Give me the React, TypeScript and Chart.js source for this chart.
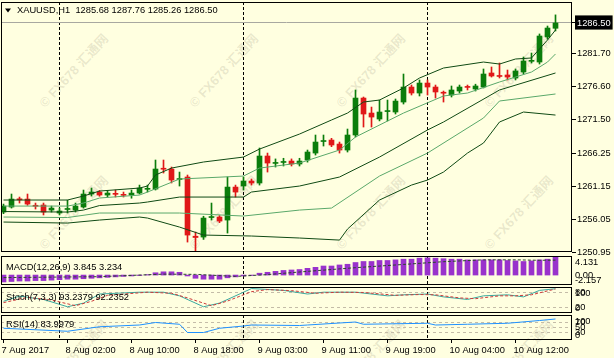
import React, { useEffect, useRef } from 'react';
import { Chart, registerables } from 'chart.js';

Chart.register(...registerables);

// ---------------- data ----------------
const SYMBOL = 'XAUUSD,H1';

const OPEN = [
  1257.15, 1257.93, 1259.17, 1259.17, 1258.15, 1258.24, 1257.46, 1257.0, 1257.55, 1257.46,
  1257.93, 1259.95, 1260.26, 1259.79, 1260.0, 1259.85, 1259.79, 1260.1, 1260.68, 1260.72,
  1263.9, 1263.83, 1262.2, 1262.59, 1253.4, 1253.27, 1256.3, 1256.38, 1255.91, 1261.03,
  1261.19, 1261.97, 1261.66, 1265.85, 1264.7, 1264.85, 1265.07, 1264.61, 1265.23, 1266.31,
  1268.1, 1268.33, 1267.71, 1266.78, 1269.11, 1274.85, 1272.52, 1271.59, 1272.75, 1272.68,
  1274.23, 1276.56, 1275.63, 1277.18, 1276.56, 1275.7, 1275.32, 1275.94, 1276.6, 1276.25,
  1276.56, 1278.74, 1278.3, 1278.43, 1277.96, 1278.89, 1280.55, 1280.44, 1284.33, 1285.68,
];
const HIGH = [
  1258.39, 1259.95, 1259.48, 1259.95, 1258.55, 1258.55, 1258.08, 1257.77, 1259.0, 1258.55,
  1260.57, 1260.88, 1260.5, 1260.5, 1260.57, 1260.26, 1260.57, 1261.34, 1261.34, 1265.23,
  1265.23, 1264.14, 1263.36, 1262.9, 1254.05, 1256.5, 1258.55, 1256.6, 1262.59, 1261.34,
  1262.59, 1262.28, 1267.09, 1266.31, 1265.4, 1265.5, 1265.4, 1265.5, 1266.78, 1269.11,
  1269.11, 1268.6, 1268.02, 1270.04, 1276.1, 1275.01, 1273.45, 1274.54, 1274.54, 1274.7,
  1278.58, 1276.87, 1277.65, 1277.65, 1276.87, 1275.94, 1276.72, 1276.87, 1276.87, 1277.0,
  1279.36, 1279.67, 1280.29, 1279.2, 1279.36, 1281.22, 1281.84, 1284.8, 1286.03, 1287.76,
];
const LOW = [
  1256.9, 1257.77, 1258.55, 1258.2, 1257.62, 1256.7, 1257.15, 1256.7, 1257.0, 1257.15,
  1257.77, 1259.64, 1259.6, 1259.5, 1259.48, 1259.48, 1259.3, 1259.95, 1260.26, 1260.57,
  1263.21, 1261.66, 1261.19, 1252.49, 1251.1, 1252.9, 1255.91, 1255.5, 1253.89, 1259.48,
  1260.57, 1261.34, 1261.34, 1263.36, 1264.14, 1264.3, 1264.3, 1264.3, 1264.9, 1266.0,
  1267.4, 1267.3, 1266.31, 1266.47, 1268.8, 1270.35, 1270.35, 1271.3, 1271.3, 1272.37,
  1273.92, 1275.32, 1275.17, 1275.32, 1274.85, 1274.23, 1275.01, 1275.63, 1276.1, 1275.94,
  1276.41, 1278.11, 1277.96, 1277.65, 1277.65, 1278.58, 1280.29, 1280.13, 1284.0, 1285.26,
];
const CLOSE = [
  1258.08, 1259.17, 1259.05, 1258.39, 1258.05, 1257.15, 1257.77, 1257.31, 1257.65, 1258.08,
  1259.95, 1260.26, 1259.79, 1260.1, 1259.9, 1259.75, 1260.1, 1260.88, 1260.78, 1263.83,
  1263.8, 1262.12, 1262.35, 1253.58, 1253.2, 1256.22, 1256.45, 1255.75, 1261.03, 1260.26,
  1261.97, 1261.66, 1265.85, 1264.76, 1264.85, 1265.0, 1264.61, 1265.07, 1266.47, 1268.02,
  1268.2, 1267.56, 1266.78, 1269.11, 1274.85, 1272.37, 1271.9, 1272.68, 1272.9, 1274.38,
  1276.56, 1275.63, 1277.18, 1276.56, 1275.79, 1275.6, 1276.1, 1276.56, 1276.5, 1276.72,
  1278.58, 1278.27, 1278.2, 1278.11, 1279.05, 1280.6, 1280.65, 1284.48, 1285.72, 1286.5,
];

// Bollinger bands [bar index, price]
const BB_UPPER_OUTER: [number, number][] = [
  [0, 1259.02], [8, 1259.02], [10, 1259.64], [12, 1260.41], [17, 1260.88], [18, 1261.19],
  [19, 1262.9], [21, 1263.98], [25, 1264.92], [30, 1265.69], [32, 1266.93], [37, 1269.26],
  [41, 1271.44], [43, 1272.52], [45, 1274.23], [47, 1274.54], [50, 1276.41], [52, 1277.96],
  [55, 1279.51], [60, 1280.44], [62, 1280.13], [64, 1280.91], [66, 1281.07], [68, 1283.86],
  [69, 1285.41],
];
const BB_UPPER_INNER: [number, number][] = [
  [0, 1258.08], [8, 1258.08], [10, 1258.55], [12, 1259.33], [17, 1259.79], [18, 1260.26],
  [22, 1262.28], [30, 1262.74], [32, 1263.98], [37, 1264.76], [42, 1266.78], [44, 1268.8],
  [50, 1272.52], [55, 1275.17], [58, 1275.63], [62, 1277.34], [64, 1278.11], [66, 1278.89],
  [68, 1280.44], [69, 1281.69],
];
const BB_MIDDLE: [number, number][] = [
  [0, 1257.23], [8, 1257.15], [10, 1257.46], [12, 1258.16], [17, 1258.55], [18, 1258.71],
  [22, 1259.48], [30, 1259.48], [31, 1260.26], [37, 1261.19], [42, 1262.59], [47, 1265.69],
  [53, 1269.89], [55, 1271.13], [62, 1276.1], [69, 1278.74],
];
const BB_LOWER_INNER: [number, number][] = [
  [0, 1256.38], [8, 1256.3], [12, 1257.0], [18, 1257.0], [22, 1257.0], [30, 1256.53],
  [37, 1257.46], [41, 1257.77], [47, 1262.74], [53, 1266.31], [60, 1271.75], [62, 1274.39],
  [69, 1275.48],
];
const BB_LOWER_OUTER: [number, number][] = [
  [0, 1255.6], [8, 1255.44], [12, 1255.91], [17, 1256.38], [18, 1256.22], [22, 1254.82],
  [25, 1253.58], [31, 1253.43], [37, 1253.12], [42, 1252.8], [43, 1254.51], [47, 1259.02],
  [51, 1261.34], [53, 1262.12], [55, 1263.36], [58, 1266.31], [60, 1267.87], [62, 1271.13],
  [65, 1272.68], [69, 1272.21],
];

const MACD_HIST = [
  -1.5, -1.4, -1.3, -1.3, -1.2, -1.2, -1.1, -1.0, -0.9, -0.9,
  -0.8, -0.7, -0.6, -0.5, -0.4, -0.3, -0.2, -0.1, 0.1, 0.5,
  0.7, 0.7, 0.6, -0.2, -0.7, -0.9, -0.9, -0.9, -0.6, -0.4,
  -0.2, -0.1, 0.4, 0.6, 0.8, 1.0, 1.1, 1.2, 1.46, 1.68,
  1.96, 1.96, 2.19, 2.34, 2.72, 2.94, 2.94, 3.16, 3.16, 3.29,
  3.44, 3.44, 3.66, 3.73, 3.66, 3.55, 3.44, 3.44, 3.29, 3.29,
  3.29, 3.29, 3.29, 3.16, 3.07, 2.94, 3.07, 3.29, 3.44, 3.845,
];
const MACD_SIGNAL: [number, number][] = [
  [0, -0.55], [12, -0.35], [20, 0.2], [24, 0.15], [29, -0.3], [33, 0.1], [38, 0.8],
  [44, 1.6], [50, 2.3], [55, 2.9], [60, 3.3], [64, 3.3], [67, 3.2], [69, 3.234],
];
const STOCH_MAIN: [number, number][] = [
  [0, 45], [2, 65], [5, 52], [8, 24], [10, 38], [12, 73], [17, 80], [20, 80], [22, 66],
  [25, 24], [27, 38], [30, 80], [31, 94], [35, 87], [38, 73], [40, 80], [44, 80], [48, 66],
  [50, 70], [53, 73], [55, 62], [58, 52], [60, 66], [63, 70], [65, 62], [67, 87], [69, 93.2379],
];
const STOCH_SIGNAL: [number, number][] = [
  [0, 40], [3, 60], [6, 50], [9, 28], [11, 45], [13, 68], [18, 80], [21, 76], [23, 58],
  [26, 28], [28, 46], [31, 82], [33, 90], [36, 86], [39, 76], [42, 80], [45, 79], [49, 68],
  [52, 71], [54, 70], [57, 58], [59, 55], [62, 66], [64, 66], [66, 70], [68, 85], [69, 92.2352],
];
const RSI_LINE: [number, number][] = [
  [0, 47], [8, 35], [12, 53], [17, 60], [19, 70], [22, 63], [23, 30], [25, 30], [27, 47],
  [30, 56], [31, 60], [37, 58], [38, 60], [44, 72], [45, 63], [53, 67], [54, 60], [58, 63],
  [63, 67], [67, 78], [69, 83.9979],
];

const DAY_SEPARATORS = [7, 30, 53];
const TIME_TICKS = [0, 8, 16, 24, 32, 40, 48, 56, 64];
const TIME_LABELS = [
  '7 Aug 2017', '8 Aug 02:00', '8 Aug 10:00', '8 Aug 18:00', '9 Aug 03:00',
  '9 Aug 11:00', '9 Aug 19:00', '10 Aug 04:00', '10 Aug 12:00',
];
const PRICE_TICKS = [1286.5, 1281.7, 1276.6, 1271.5, 1266.25, 1261.15, 1256.05, 1250.95];
const MACD_AXIS_VALUES = [4.131, 0, -2.157];
const MACD_AXIS_LABELS = ['4.131', '0.00', '-2.157'];
const STOCH_AXIS_VALUES = [100, 80, 20, 0];
const STOCH_AXIS_LABELS = ['100', '80', '20', '0'];
const STOCH_LEVELS = [80, 20];
const RSI_AXIS_VALUES = [100, 70, 50, 30, 0];
const RSI_AXIS_LABELS = ['100', '70', '50', '30', '0'];
const RSI_LEVELS = [70, 50, 30];
const WATERMARK = '© FX678 汇通网';

// ---------------- styling ----------------
const BG = '#FFFFE0';
const UP = '#0b7d0b';
const DOWN = '#e01818';
const BB_DARK = '#0f4a14';
const BB_LIGHT = '#5aa86a';
const FONT_FAMILY = '"Liberation Sans", Arial, sans-serif';
const FONT_SIZE = 9.3;
const FONT = `${FONT_SIZE}px ${FONT_FAMILY}`;
const X_MIN = -0.3125;
const X_MAX = 71.0625;

const pts = (arr: [number, number][]) => arr.map(([x, y]) => ({ x, y }));

function drawFrame(chart: any) {
  const { ctx, chartArea: a } = chart;
  ctx.save();
  ctx.setLineDash([]);
  ctx.strokeStyle = '#000';
  ctx.lineWidth = 1;
  ctx.strokeRect(a.left + 0.5, a.top + 0.5, a.right - a.left - 1, a.bottom - a.top - 1);
  ctx.restore();
}

function drawSeparators(chart: any) {
  const { ctx, chartArea: a, scales } = chart;
  ctx.save();
  ctx.strokeStyle = '#000';
  ctx.lineWidth = 1;
  ctx.setLineDash([3, 2]);
  for (const s of DAY_SEPARATORS) {
    const px = Math.round(scales.x.getPixelForValue(s) - 0.5) + 0.5;
    ctx.beginPath();
    ctx.moveTo(px, a.top);
    ctx.lineTo(px, a.bottom);
    ctx.stroke();
  }
  ctx.restore();
}

function drawLevels(chart: any, levels: number[]) {
  const { ctx, chartArea: a, scales } = chart;
  ctx.save();
  ctx.strokeStyle = '#c4bca8';
  ctx.lineWidth = 1;
  ctx.setLineDash([3, 3]);
  for (const v of levels) {
    const py = Math.round(scales.y.getPixelForValue(v) - 0.5) + 0.5;
    ctx.beginPath();
    ctx.moveTo(a.left, py);
    ctx.lineTo(a.right, py);
    ctx.stroke();
  }
  ctx.restore();
}

function drawSideLabels(chart: any, values: number[], labels: string[]) {
  const { ctx, chartArea: a, scales } = chart;
  const y = scales.y;
  ctx.save();
  ctx.font = FONT;
  ctx.fillStyle = '#000';
  ctx.textAlign = 'left';
  ctx.textBaseline = 'middle';
  values.forEach((v, i) => {
    let py = y.getPixelForValue(v);
    if (v === y.max) py += 6;
    else if (v === y.min) py -= 5;
    ctx.fillText(labels[i], a.right + 3, py);
  });
  ctx.restore();
}

function drawTitle(chart: any, text: string, dy: number) {
  const { ctx, chartArea: a } = chart;
  ctx.save();
  ctx.font = FONT;
  ctx.fillStyle = '#000';
  ctx.textAlign = 'left';
  ctx.textBaseline = 'middle';
  ctx.fillText(text, a.left + 5, a.top + dy);
  ctx.restore();
}

const hiddenX = { type: 'linear', min: X_MIN, max: X_MAX, offset: false, display: false };
const baseOptions = {
  responsive: false,
  animation: false,
  events: [],
  plugins: { legend: { display: false }, tooltip: { enabled: false }, title: { display: false } },
};

function mainConfig(): any {
  const last = OPEN.length - 1;
  const colors = OPEN.map((o, i) => (CLOSE[i] >= o ? UP : DOWN));
  const band = (data: [number, number][], color: string) => ({
    type: 'line',
    data: pts(data),
    borderColor: color,
    borderWidth: 1,
    pointRadius: 0,
    tension: 0,
    fill: false,
    order: 0,
  });
  return {
    type: 'bar',
    data: {
      datasets: [
        band(BB_UPPER_OUTER, BB_DARK),
        band(BB_UPPER_INNER, BB_LIGHT),
        band(BB_MIDDLE, BB_DARK),
        band(BB_LOWER_INNER, BB_LIGHT),
        band(BB_LOWER_OUTER, BB_DARK),
        {
          type: 'bar',
          data: OPEN.map((o, i) => ({ x: i, y: [o, CLOSE[i]] })),
          backgroundColor: colors,
          borderWidth: 0,
          barThickness: 5,
          minBarLength: 1,
          grouped: false,
          order: 1,
        },
        {
          type: 'bar',
          data: LOW.map((l, i) => ({ x: i, y: [l, HIGH[i]] })),
          backgroundColor: colors,
          borderWidth: 0,
          barThickness: 1,
          grouped: false,
          order: 2,
        },
      ],
    },
    options: {
      ...baseOptions,
      layout: { padding: { top: 2, bottom: 10, left: 1, right: 0 } },
      scales: {
        x: hiddenX,
        y: {
          type: 'linear',
          position: 'right',
          min: 1250.95,
          max: 1289.76,
          afterBuildTicks: (s: any) => {
            s.ticks = PRICE_TICKS.map((v) => ({ value: v }));
          },
          afterFit: (s: any) => {
            s.width = 42;
            s.paddingTop = 0;
            s.paddingBottom = 0;
          },
          grid: { drawOnChartArea: false, drawTicks: true, tickLength: 4, color: '#000' },
          border: { display: false },
          ticks: {
            autoSkip: false,
            padding: 1,
            font: { family: FONT_FAMILY, size: FONT_SIZE },
            color: (c: any) => (c.tick && c.tick.value === CLOSE[last] ? '#fff' : '#000'),
            showLabelBackdrop: (c: any) => !!(c.tick && c.tick.value === CLOSE[last]),
            backdropColor: '#000',
            backdropPadding: { top: 2, bottom: 1, left: 2, right: 2 },
            callback: (v: any) => Number(v).toFixed(2),
          },
        },
      },
    },
    plugins: [
      {
        id: 'mainDecor',
        beforeDatasetsDraw(chart: any) {
          drawSeparators(chart);
          const { ctx, chartArea: a, scales } = chart;
          const py = Math.round(scales.y.getPixelForValue(CLOSE[last]) - 0.5) + 0.5;
          ctx.save();
          ctx.strokeStyle = '#a8a8a0';
          ctx.lineWidth = 1;
          ctx.beginPath();
          ctx.moveTo(a.left, py);
          ctx.lineTo(a.right, py);
          ctx.stroke();
          ctx.restore();
        },
        afterDraw(chart: any) {
          drawFrame(chart);
          const { ctx, chartArea: a } = chart;
          ctx.save();
          ctx.fillStyle = '#000';
          ctx.beginPath();
          ctx.moveTo(a.left + 4, a.top + 6.5);
          ctx.lineTo(a.left + 10, a.top + 6.5);
          ctx.lineTo(a.left + 7, a.top + 10.5);
          ctx.closePath();
          ctx.fill();
          ctx.restore();
          const f = (v: number) => v.toFixed(2);
          const text = `${SYMBOL}  ${f(OPEN[last])} ${f(HIGH[last])} ${f(LOW[last])} ${f(CLOSE[last])}`;
          const { ctx: c2 } = chart;
          c2.save();
          c2.font = FONT;
          c2.fillStyle = '#000';
          c2.textBaseline = 'middle';
          c2.textAlign = 'left';
          c2.fillText(text, a.left + 16, a.top + 8.7);
          c2.restore();
        },
      },
    ],
  };
}

function macdConfig(): any {
  const lastSig = MACD_SIGNAL[MACD_SIGNAL.length - 1][1];
  const lastHist = MACD_HIST[MACD_HIST.length - 1];
  return {
    type: 'bar',
    data: {
      datasets: [
        {
          type: 'line',
          data: pts(MACD_SIGNAL),
          borderColor: '#2a4a2a',
          borderWidth: 1,
          borderDash: [3, 2],
          pointRadius: 0,
          tension: 0,
          order: 0,
        },
        {
          type: 'bar',
          data: MACD_HIST.map((v, i) => ({ x: i, y: v })),
          backgroundColor: '#9932CC',
          borderWidth: 0,
          barThickness: 5,
          grouped: false,
          order: 1,
        },
      ],
    },
    options: {
      ...baseOptions,
      layout: { padding: { top: 2, bottom: 3, left: 1, right: 42 } },
      scales: {
        x: hiddenX,
        y: { type: 'linear', min: -2.157, max: 4.131, display: false },
      },
    },
    plugins: [
      {
        id: 'macdDecor',
        beforeDatasetsDraw(chart: any) {
          drawSeparators(chart);
        },
        afterDraw(chart: any) {
          drawFrame(chart);
          drawSideLabels(chart, MACD_AXIS_VALUES, MACD_AXIS_LABELS);
          drawTitle(chart, `MACD(12,26,9) ${lastHist.toFixed(3)} ${lastSig.toFixed(3)}`, 11);
        },
      },
    ],
  };
}

function stochConfig(): any {
  const m = STOCH_MAIN[STOCH_MAIN.length - 1][1];
  const s = STOCH_SIGNAL[STOCH_SIGNAL.length - 1][1];
  return {
    type: 'line',
    data: {
      datasets: [
        {
          data: pts(STOCH_SIGNAL),
          borderColor: '#cc3a3a',
          borderWidth: 1,
          borderDash: [3, 2],
          pointRadius: 0,
          tension: 0,
        },
        {
          data: pts(STOCH_MAIN),
          borderColor: '#3aa89e',
          borderWidth: 1,
          pointRadius: 0,
          tension: 0,
        },
      ],
    },
    options: {
      ...baseOptions,
      layout: { padding: { top: 2, bottom: 2, left: 1, right: 42 } },
      scales: {
        x: hiddenX,
        y: { type: 'linear', min: 0, max: 100, display: false },
      },
    },
    plugins: [
      {
        id: 'stochDecor',
        beforeDatasetsDraw(chart: any) {
          drawLevels(chart, STOCH_LEVELS);
          drawSeparators(chart);
        },
        afterDraw(chart: any) {
          drawFrame(chart);
          drawSideLabels(chart, STOCH_AXIS_VALUES, STOCH_AXIS_LABELS);
          drawTitle(chart, `Stoch(7,3,3) ${m.toFixed(4)} ${s.toFixed(4)}`, 10);
        },
      },
    ],
  };
}

function rsiConfig(): any {
  const r = RSI_LINE[RSI_LINE.length - 1][1];
  return {
    type: 'line',
    data: {
      datasets: [
        {
          data: pts(RSI_LINE),
          borderColor: '#1E90FF',
          borderWidth: 1,
          pointRadius: 0,
          tension: 0,
        },
      ],
    },
    options: {
      ...baseOptions,
      layout: { padding: { top: 2, bottom: 0, left: 1, right: 42 } },
      scales: {
        x: {
          type: 'linear',
          min: X_MIN,
          max: X_MAX,
          offset: false,
          position: 'bottom',
          afterBuildTicks: (sc: any) => {
            sc.ticks = TIME_TICKS.map((v) => ({ value: v }));
          },
          afterFit: (sc: any) => {
            sc.height = 18;
            sc.paddingLeft = 0;
            sc.paddingRight = 0;
          },
          grid: { drawOnChartArea: false, drawTicks: true, tickLength: 3, color: '#000' },
          border: { display: false },
          ticks: {
            autoSkip: false,
            maxRotation: 0,
            minRotation: 0,
            align: 'start',
            padding: 2,
            labelOffset: -2,
            color: '#000',
            font: { family: FONT_FAMILY, size: FONT_SIZE },
            callback: (v: any) => TIME_LABELS[TIME_TICKS.indexOf(Number(v))] ?? '',
          },
        },
        y: { type: 'linear', min: 0, max: 100, display: false },
      },
    },
    plugins: [
      {
        id: 'rsiDecor',
        beforeDatasetsDraw(chart: any) {
          drawLevels(chart, RSI_LEVELS);
          drawSeparators(chart);
        },
        afterDraw(chart: any) {
          drawFrame(chart);
          drawSideLabels(chart, RSI_AXIS_VALUES, RSI_AXIS_LABELS);
          drawTitle(chart, `RSI(14) ${r.toFixed(4)}`, 9.5);
        },
      },
    ],
  };
}

const WM_COLS = [73, 223, 370, 518];
const WM_ROWS = [70, 212, 356];

export default function App() {
  const r1 = useRef<HTMLCanvasElement>(null);
  const r2 = useRef<HTMLCanvasElement>(null);
  const r3 = useRef<HTMLCanvasElement>(null);
  const r4 = useRef<HTMLCanvasElement>(null);

  useEffect(() => {
    const charts = [
      new Chart(r1.current as HTMLCanvasElement, mainConfig()),
      new Chart(r2.current as HTMLCanvasElement, macdConfig()),
      new Chart(r3.current as HTMLCanvasElement, stochConfig()),
      new Chart(r4.current as HTMLCanvasElement, rsiConfig()),
    ];
    return () => charts.forEach((c) => c.destroy());
  }, []);

  const cv = (top: number, height: number) => ({
    position: 'absolute' as const,
    left: 0,
    top,
    width: 614,
    height,
  });

  return (
    <div
      style={{
        position: 'fixed',
        left: 0,
        top: 0,
        width: 614,
        height: 358,
        background: BG,
        overflow: 'hidden',
      }}
    >
      {WM_ROWS.map((y) =>
        WM_COLS.map((x) => (
          <div
            key={`${x}-${y}`}
            style={{
              position: 'absolute',
              left: x,
              top: y,
              transform: 'translate(-50%, -50%) rotate(-47deg)',
              whiteSpace: 'nowrap',
              font: `bold 13px "Liberation Sans", "Noto Sans CJK SC", sans-serif`,
              color: 'rgba(120, 110, 90, 0.16)',
              pointerEvents: 'none',
            }}
          >
            {WATERMARK}
          </div>
        ))
      )}
      <canvas ref={r1} width={614} height={262} style={cv(0, 262)} />
      <canvas ref={r2} width={614} height={34} style={cv(254, 34)} />
      <canvas ref={r3} width={614} height={30} style={cv(285, 30)} />
      <canvas ref={r4} width={614} height={45} style={cv(313, 45)} />
    </div>
  );
}
